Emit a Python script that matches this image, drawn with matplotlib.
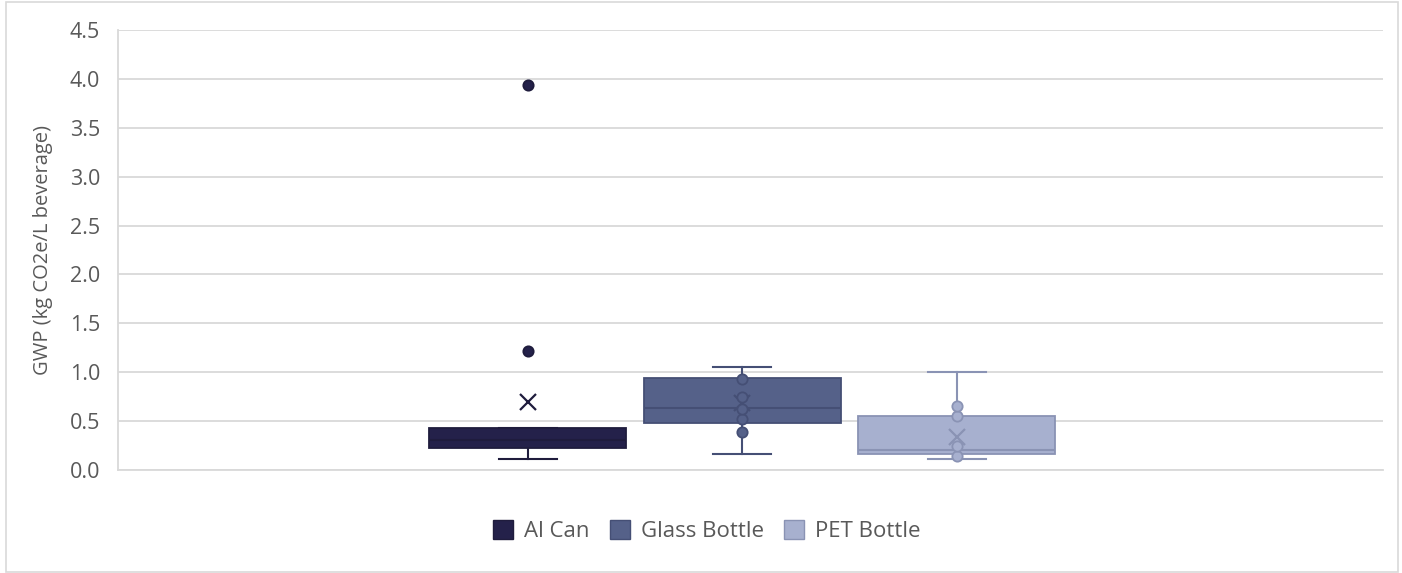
import numpy as np
import matplotlib.pyplot as plt
from matplotlib.patches import Patch, Rectangle

plt.rcParams['font.family'] = ['Open Sans', 'DejaVu Sans']

# categories and box statistics (kg CO2e / L beverage)
categories = ["Al Can", "Glass Bottle", "PET Bottle"]
q1 = [0.225, 0.484, 0.16]
medians = [0.307, 0.637, 0.20]
q3 = [0.43, 0.944, 0.552]
whisker_lo = [0.112, 0.167, 0.112]
whisker_hi = [0.43, 1.05, 1.0]
means = [0.695, 0.68, 0.334]

# individual points shown on each box
points = [
    [1.22, 3.94],
    [0.39, 0.52, 0.62, 0.75, 0.93],
    [0.146, 0.245, 0.55, 0.65],
]

fill_colors = ["#24214a", "#556189", "#a7b0cf"]
edge_colors = ["#1f1c3d", "#454f75", "#8a93b4"]

fig = plt.figure(figsize=(14.02, 5.73), dpi=100)
ax = fig.add_axes([0.0842, 0.1798, 0.9022, 0.7678])

# light frame round the whole chart
fig.patches.append(Rectangle((0.004, 0.002), 0.993, 0.995, transform=fig.transFigure,
                             fill=False, edgecolor="#d9d9d9", linewidth=1.2))

stats = []
for i, name in enumerate(categories):
    stats.append({
        "label": name,
        "q1": q1[i], "med": medians[i], "q3": q3[i],
        "whislo": whisker_lo[i], "whishi": whisker_hi[i],
        "mean": means[i], "fliers": [],
    })

positions = np.arange(len(categories))
for i, st in enumerate(stats):
    ec = edge_colors[i]
    ax.bxp([st], positions=[positions[i]], widths=0.918, capwidths=0.27,
           patch_artist=True, showmeans=True, showfliers=False,
           boxprops=dict(facecolor=fill_colors[i], edgecolor=ec, linewidth=1.3),
           medianprops=dict(color=ec, linewidth=1.5),
           whiskerprops=dict(color=ec, linewidth=1.5),
           capprops=dict(color=ec, linewidth=1.5),
           meanprops=dict(marker="x", markersize=12, markeredgecolor=ec,
                          markeredgewidth=1.6),
           zorder=3)
    ax.scatter(np.full(len(points[i]), positions[i]), points[i], s=55,
               facecolor=fill_colors[i], edgecolor=ec, linewidth=1.3, zorder=4)

ax.set_xlim(-1.911, 3.986)
ax.set_ylim(0, 4.5)
ax.set_yticks(np.arange(0, 4.51, 0.5))
ax.set_yticklabels([f"{v:.1f}" for v in np.arange(0, 4.51, 0.5)])
ax.set_xticks([])
ax.tick_params(axis="y", length=0, pad=13, labelsize=15.5, labelcolor="#595959")
ax.yaxis.grid(True, color="#d9d9d9", linewidth=1.3)
ax.set_axisbelow(True)

for side in ["top", "right"]:
    ax.spines[side].set_visible(False)
for side in ["left", "bottom"]:
    ax.spines[side].set_color("#d9d9d9")
    ax.spines[side].set_linewidth(1.3)

ax.set_ylabel("GWP (kg CO2e/L beverage)", fontsize=14.5, color="#595959", labelpad=12)

handles = [Patch(facecolor=fill_colors[i], edgecolor=edge_colors[i], linewidth=1.0)
           for i in range(len(categories))]
fig.legend(handles, categories, loc="center", bbox_to_anchor=(0.504, 0.073),
           ncol=3, frameon=False, fontsize=16, labelcolor="#595959",
           handlelength=0.9, handleheight=0.9, handletextpad=0.5, columnspacing=0.9)

fig.savefig("out.png", dpi=100)
